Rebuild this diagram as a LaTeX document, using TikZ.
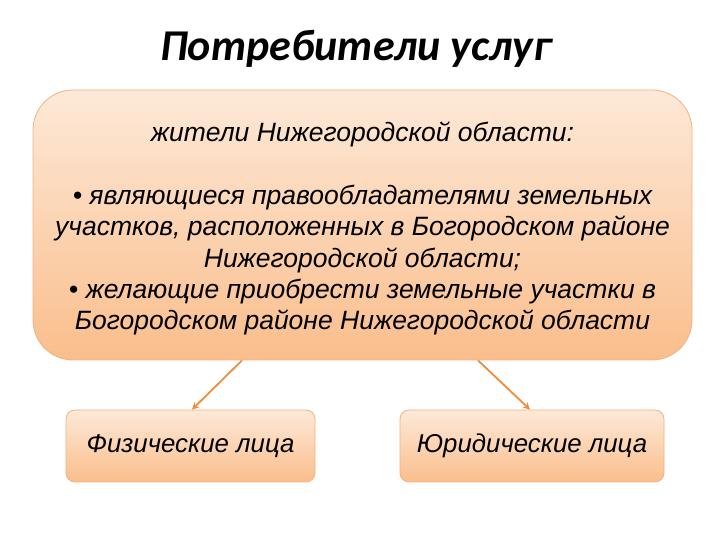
\documentclass[tikz,border=0pt]{standalone}
\usepackage{fontspec}
\setmainfont{Liberation Sans}
\newfontfamily\titlefont{Carlito}
\usepackage{xcolor}
\usetikzlibrary{arrows.meta}
\definecolor{boxtop}{RGB}{253,233,216}
\definecolor{boxbot}{RGB}{250,190,140}
\definecolor{boxline}{RGB}{244,178,125}
\definecolor{arrcol}{RGB}{240,140,60}

\begin{document}
\begin{tikzpicture}[x=1pt,y=1pt]
\tikzstyle{every node}+=[inner sep=0pt]
\tikzstyle{bigbox}=[draw=boxline,line width=0.8pt,top color=boxtop,bottom color=boxbot,rounded corners=40pt]
\tikzstyle{smallbox}=[draw=boxline,line width=0.8pt,top color=boxtop,bottom color=boxbot,rounded corners=9pt]
\tikzstyle{arr}=[draw=arrcol,line width=1.8pt,-{Stealth[length=7pt,width=7pt]}]
\useasboundingbox (0,0) rectangle (720,540);
\node (title) at (356,491) {\titlefont\fontsize{44}{48}\selectfont\bfseries\itshape Потребители услуг};
\node [bigbox,minimum width=659pt,minimum height=270pt] (users) at (362.5,315) {};
\node [align=center,font=\fontsize{26.5}{31.3}\selectfont\itshape] (userstext) at ([yshift=-3.5pt]users.center)
  {жители Нижегородской области:\\[32pt]
   • являющиеся правообладателями земельных\\
   участков, расположенных в Богородском районе\\
   Нижегородской области;\\
   • желающие приобрести земельные участки в\\
   Богородском районе Нижегородской области};
\node [smallbox,minimum width=249pt,minimum height=72pt,font=\fontsize{25.8}{30}\selectfont\itshape] (fiz) at (190.5,94) {Физические лица};
\node [smallbox,minimum width=264pt,minimum height=72pt,font=\fontsize{25.8}{30}\selectfont\itshape] (yur) at (532,94) {Юридические лица};
\draw [arr] ([xshift=-120.5pt]users.south) -- ([xshift=1.5pt]fiz.north);
\draw [arr] ([xshift=115.5pt]users.south) -- ([xshift=-2pt]yur.north);
\end{tikzpicture}
\end{document}
